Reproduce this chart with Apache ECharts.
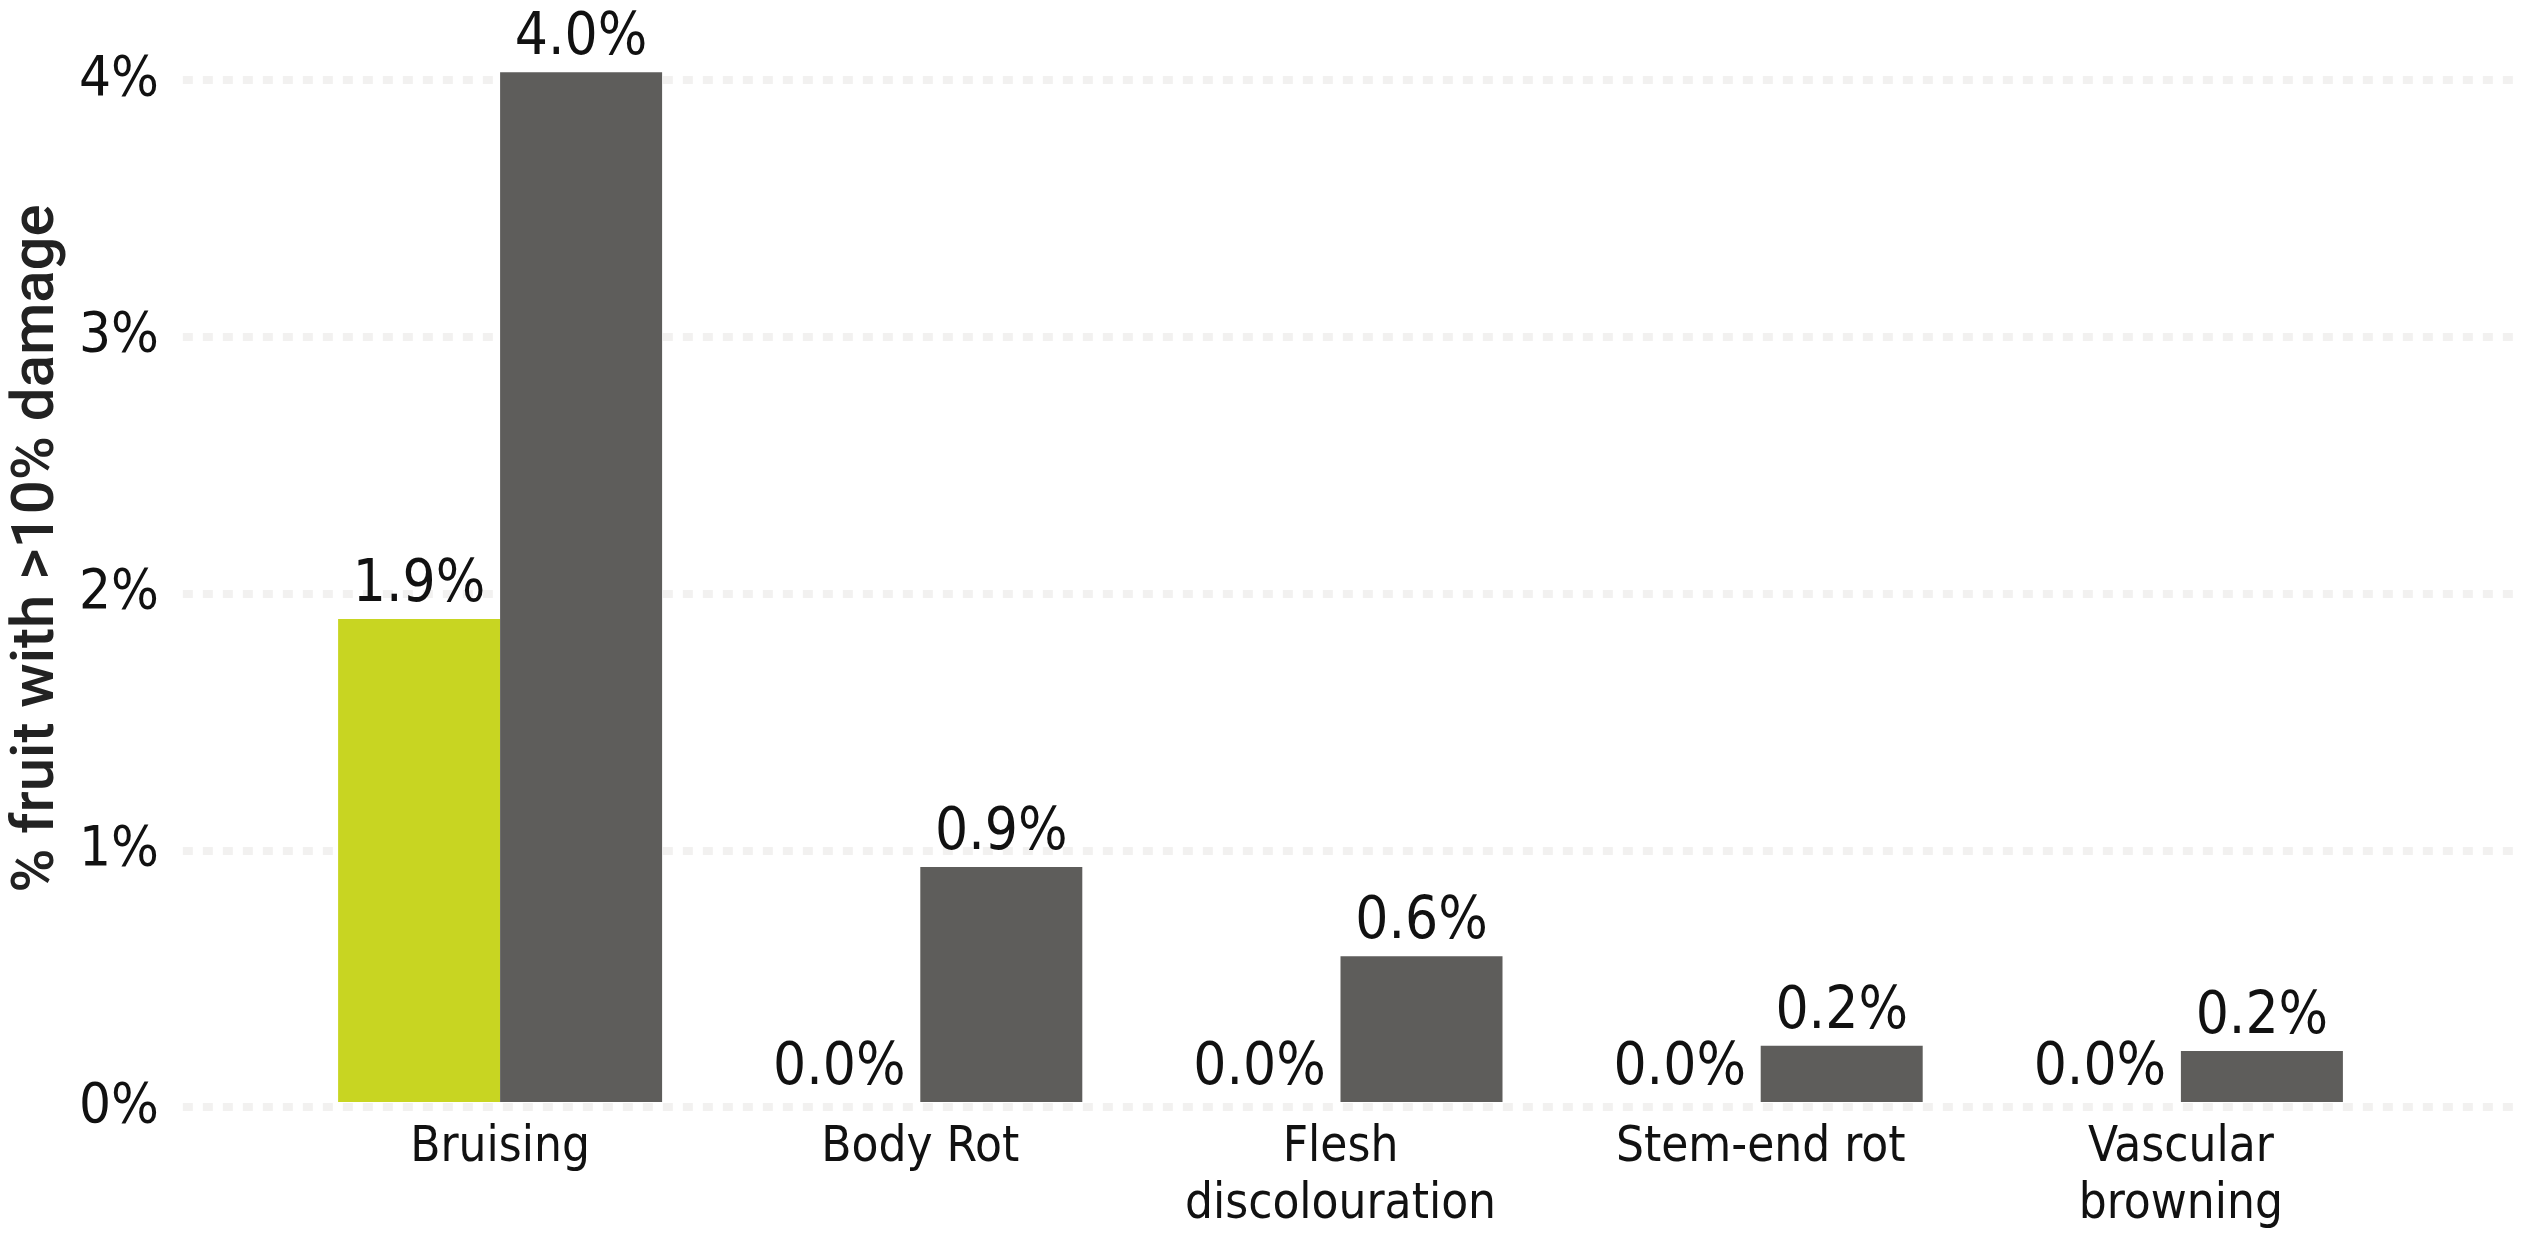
<!DOCTYPE html>
<html>
<head>
<meta charset="utf-8">
<title>Fruit damage</title>
<script src="https://cdn.jsdelivr.net/npm/echarts@6/dist/echarts.min.js"></script>
<style>
  html, body {
    margin: 0;
    padding: 0;
    background: #fff;
  }
  #chart {
    width: 2522px;
    height: 1234px;
  }
</style>
</head>
<body>
<div id="chart"></div>
<script>
// categories and values (% of fruit with >10% damage)
const categories = ['Bruising', 'Body Rot', 'Flesh\ndiscolouration', 'Stem-end rot', 'Vascular\nbrowning']
const greenValues = [1.89, 0, 0, 0, 0]
const greyValues = [4.03, 0.92, 0.57, 0.22, 0.2]
const yTicks = [0, 1, 2, 3, 4]

const narrow = "'Liberation Sans Narrow', 'DejaVu Sans Condensed', 'Roboto Condensed', sans-serif"

const chart = echarts.init(document.getElementById('chart'))

const barLabel = {
  show: true,
  position: 'top',
  distance: 4,
  color: '#111',
  fontFamily: narrow,
  fontSize: 58,
  formatter: p => p.value.toFixed(1) + '%'
}

let option = {
  animation: false,
  backgroundColor: '#fff',
  grid: [
    // grid for the dotted background lines, spans to the right edge
    {left: 172, right: 0, top: 80, bottom: 127},
    // grid for the bars
    {left: 290, right: 131, top: 80, bottom: 127}
  ],
  xAxis: [
    {
      gridIndex: 0,
      type: 'value',
      min: 0,
      max: 1,
      show: false
    },
    {
      gridIndex: 1,
      type: 'category',
      data: categories,
      axisLine: {show: false},
      axisTick: {show: false},
      axisLabel: {
        interval: 0,
        margin: 18,
        color: '#111',
        fontFamily: narrow,
        fontSize: 49,
        lineHeight: 57
      }
    }
  ],
  yAxis: [
    {
      gridIndex: 0,
      type: 'value',
      min: 0,
      max: 4,
      interval: 1,
      axisLine: {show: false},
      axisTick: {show: false},
      axisLabel: {
        margin: 24,
        color: '#111',
        fontFamily: narrow,
        fontSize: 56,
        formatter: v => yTicks.includes(v) ? v + '%' : ''
      },
      splitLine: {
        lineStyle: {
          color: '#f2f1f0',
          width: 8,
          type: [10, 10]
        }
      },
      name: '% fruit with >10% damage',
      nameLocation: 'middle',
      nameRotate: 90,
      nameGap: 80,
      nameTextStyle: {
        color: '#222',
        fontFamily: 'Roboto, sans-serif',
        fontWeight: 500,
        fontSize: 60,
        padding: [0, 0, 0, 90] // nudges the title up a little
      }
    },
    {
      gridIndex: 1,
      type: 'value',
      min: 0,
      max: 4,
      interval: 1,
      show: false,
      splitLine: {show: false}
    }
  ],
  series: [
    {
      type: 'bar',
      xAxisIndex: 1,
      yAxisIndex: 1,
      data: greenValues,
      barWidth: 162,
      barGap: '0%',
      clip: false,
      itemStyle: {color: '#c8d522'},
      label: barLabel
    },
    {
      type: 'bar',
      xAxisIndex: 1,
      yAxisIndex: 1,
      data: greyValues,
      barWidth: 162,
      barGap: '0%',
      clip: false,
      itemStyle: {color: '#5e5d5b'},
      label: barLabel
    }
  ]
}

chart.setOption(option)
</script>
</body>
</html>
